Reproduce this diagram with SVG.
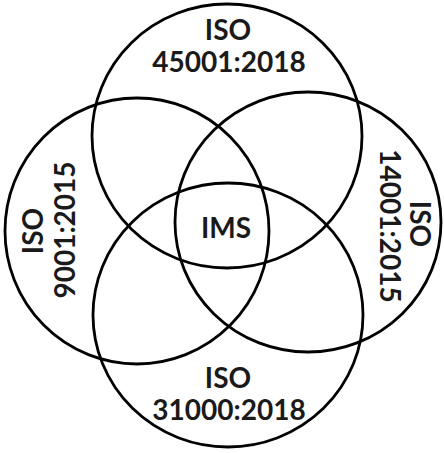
<svg xmlns="http://www.w3.org/2000/svg" width="444" height="453" viewBox="0 0 444 453">
<style>
.c{fill:none;stroke:#000;stroke-width:2.8}
.t{font-family:Lato,"Open Sans","Liberation Sans",sans-serif;font-weight:bold;font-size:28px;fill:#1a1a1a;text-anchor:middle}
</style>
<rect width="444" height="453" fill="#fff"/>
<g id="n-iso45001">
<ellipse class="c" cx="227" cy="136" rx="135" ry="132"/>
<text class="t" x="228" y="40">ISO</text>
<text class="t" x="229" y="72">45001:2018</text>
</g>
<g id="n-iso9001">
<ellipse class="c" cx="137" cy="231" rx="132" ry="133"/>
<text class="t" transform="translate(43 231) rotate(-90)">ISO</text>
<text class="t" transform="translate(75 230) rotate(-90)">9001:2015</text>
</g>
<g id="n-iso14001">
<ellipse class="c" cx="308" cy="222" rx="133" ry="130"/>
<text class="t" transform="translate(410 224) rotate(90)">ISO</text>
<text class="t" transform="translate(380 226) rotate(90)">14001:2015</text>
</g>
<g id="n-iso31000">
<ellipse class="c" cx="228" cy="315" rx="135" ry="132"/>
<text class="t" x="228" y="388">ISO</text>
<text class="t" x="229" y="420">31000:2018</text>
</g>
<g id="n-ims">
<text class="t" x="226" y="238">IMS</text>
</g>
<g id="connectors"/>
</svg>
